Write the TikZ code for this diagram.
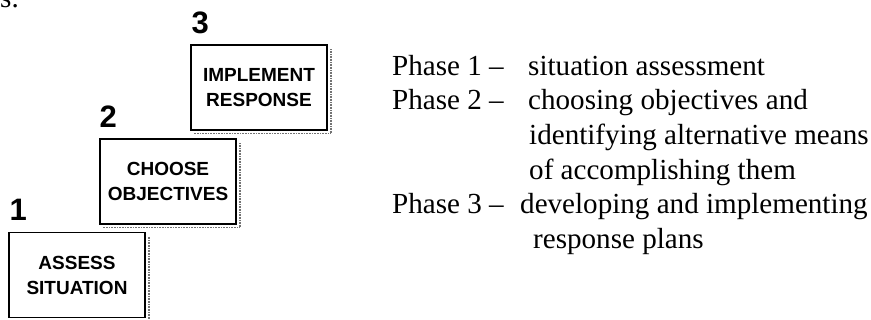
\documentclass[tikz,border=0pt]{standalone}
\usepackage{fontspec}
\setmainfont{Liberation Serif}
\newfontfamily\hvfont{Liberation Sans}
\usetikzlibrary{calc}
\tikzset{
  stepbox/.style={draw, line width=1.4pt, minimum width=136pt, minimum height=85pt,
    inner sep=0pt, align=center, font=\hvfont\bfseries\fontsize{19}{25}\selectfont},
  shadowline/.style={draw=black!55, line width=1.6pt, dash pattern=on 0.8pt off 0.8pt},
  stepnum/.style={anchor=base west, inner sep=0pt, font=\hvfont\bfseries\fontsize{31}{31}\selectfont},
  phase/.style={anchor=base west, inner sep=0pt, font=\fontsize{29.1}{34.6}\selectfont},
}
\begin{document}
\begin{tikzpicture}[x=1pt,y=-1pt]
\clip (0,0) rectangle (871,320);
\fill[white] (0,0) rectangle (871,320);
% fragment of text cut off at the top edge
\node[phase] (frag) at (0,8) {s.};
% step boxes
\node[stepbox] (b1) at (77,275) {ASSESS\\SITUATION};
\node[stepbox] (b2) at (168,181.5) {CHOOSE\\OBJECTIVES};
\node[stepbox] (b3) at (259,87.5) {IMPLEMENT\\RESPONSE};
\foreach \b in {b1,b2,b3}{
  \draw[shadowline] ($(\b.north east)+(3,5)$) -- ($(\b.south east)+(3,3)$) -- ($(\b.south west)+(3,3)$);
}
% step numbers
\node[stepnum] (n1) at ($(b1.north west)+(1,-11)$) {1};
\node[stepnum] (n2) at ($(b2.north west)+(0,-11)$) {2};
\node[stepnum] (n3) at ($(b3.north west)+(1,-11)$) {3};
% phase descriptions
\node[phase] (p1) at (392,75.5) {Phase 1 –};
\node[phase] (t1) at (528,75.5) {situation assessment};
\node[phase] (p2) at (392,110) {Phase 2 –};
\node[phase] (t2) at (528,110) {choosing objectives and};
\node[phase] (t2b) at (529,144.7) {identifying alternative means};
\node[phase] (t2c) at (529,179.3) {of accomplishing them};
\node[phase] (p3) at (392,214) {Phase 3 –};
\node[phase] (t3) at (520,214) {developing and implementing};
\node[phase] (t3b) at (533,248.5) {response plans};
\end{tikzpicture}
\end{document}
